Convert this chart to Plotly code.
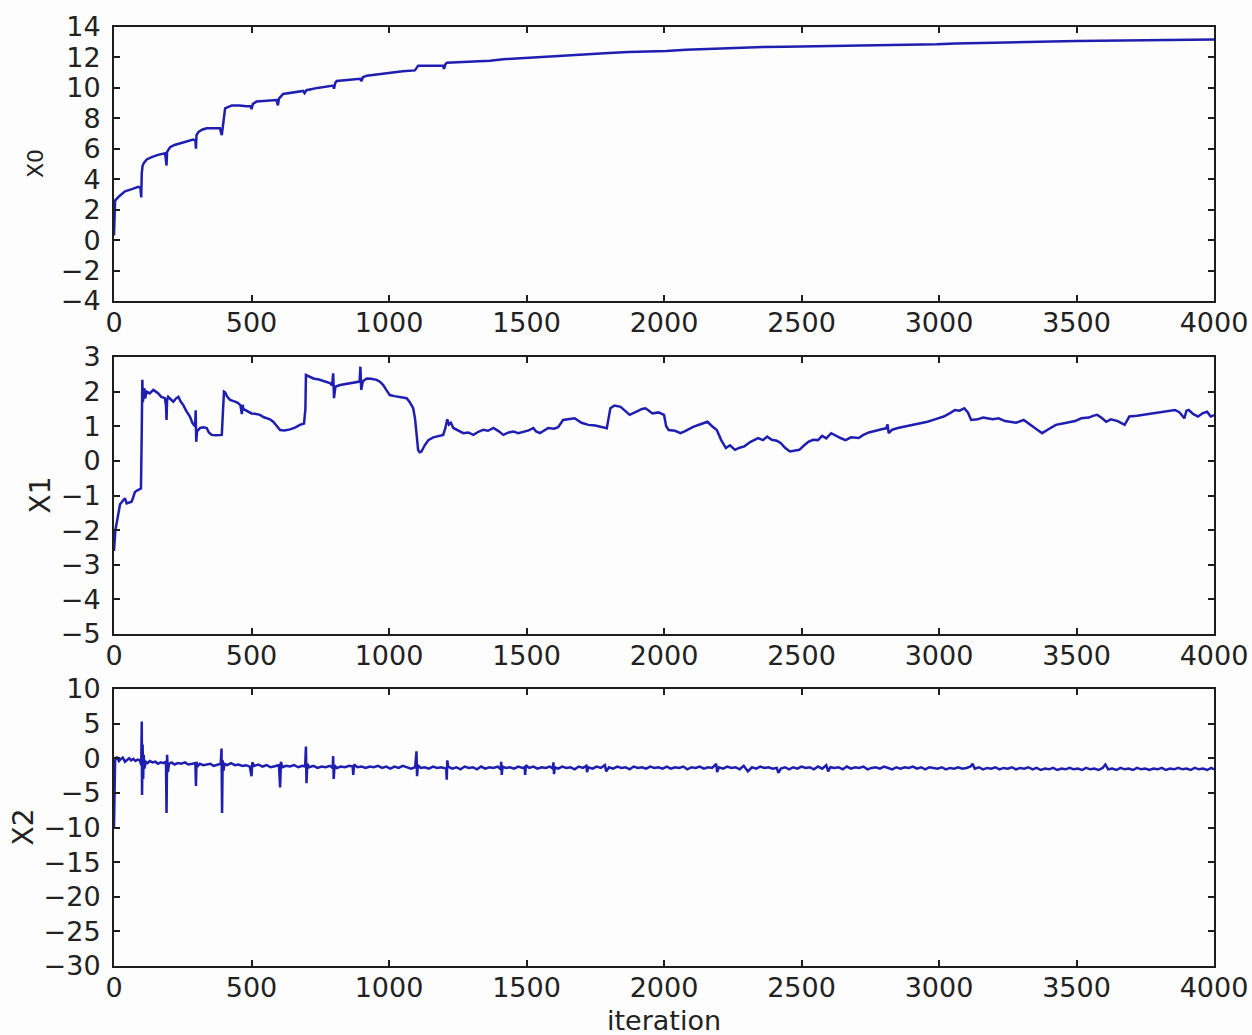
import plotly.graph_objects as go

# ---------------- data ----------------
x0_iter = [0, 2, 4, 20, 40, 65, 88, 96, 99, 101, 104, 110, 119, 137, 160, 186, 191, 193, 204, 220,
           240, 265, 288, 296, 298, 300, 307, 320, 337, 360, 385, 392, 396, 400, 404, 428, 455, 482,
           497, 500, 505, 518, 550, 591, 596, 600, 615, 650, 688, 693, 700, 740, 770, 797, 800, 805,
           810, 850, 895, 900, 905, 919, 960, 1003, 1050, 1094, 1100, 1106, 1150, 1197, 1200, 1205,
           1210, 1280, 1367, 1416, 1476, 1525, 1600, 1670, 1742, 1800, 1870, 1940, 2008, 2080, 2150,
           2208, 2280, 2360, 2442, 2520, 2600, 2680, 2742, 2820, 2900, 2992, 3060, 3158, 3240, 3320,
           3408, 3500, 3580, 3660, 3742, 3820, 3900, 3983, 4000]
x0_vals = [0.3, 1.8, 2.6, 2.9, 3.2, 3.35, 3.5, 3.45, 2.8, 4.4, 4.9, 5.1, 5.3, 5.45, 5.6, 5.7, 4.9, 5.8,
           6.1, 6.25, 6.35, 6.5, 6.6, 6.55, 6.0, 6.9, 7.1, 7.25, 7.35, 7.35, 7.35, 6.9, 7.6, 8.3, 8.65,
           8.85, 8.85, 8.8, 8.8, 8.6, 8.95, 9.1, 9.15, 9.2, 8.85, 9.3, 9.6, 9.7, 9.8, 9.65, 9.85, 10.0,
           10.1, 10.15, 9.95, 10.35, 10.45, 10.5, 10.6, 10.45, 10.7, 10.8, 10.9, 11.0, 11.1, 11.15,
           11.3, 11.45, 11.45, 11.45, 11.25, 11.55, 11.65, 11.7, 11.78, 11.88, 11.95, 12.02, 12.08,
           12.15, 12.25, 12.3, 12.35, 12.38, 12.42, 12.5, 12.55, 12.6, 12.62, 12.68, 12.7, 12.72,
           12.74, 12.75, 12.75, 12.78, 12.82, 12.86, 12.92, 12.97, 13.0, 13.02, 13.05, 13.08, 13.1,
           13.13, 13.15, 13.16, 13.18, 13.2, 13.18]

x1_iter = [0, 3, 5, 12, 22, 32, 40, 46, 55, 64, 70, 76, 85, 92, 98, 101, 103, 105, 107, 110, 113, 119,
           130, 143, 152, 161, 172, 185, 189, 191, 193, 197, 206, 216, 225, 234, 242, 252, 262, 270,
           276, 285, 295, 297, 299, 302, 313, 325, 337, 345, 355, 370, 385, 392, 396, 400, 404, 412,
           422, 432, 440, 450, 460, 465, 468, 470, 480, 490, 500, 512, 531, 545, 555, 567, 579, 592,
           604, 620, 640, 658, 676, 691, 696, 698, 710, 725, 745, 760, 773, 785, 793, 797, 800, 805,
           822, 845, 870, 885, 893, 896, 899, 905, 919, 935, 955, 968, 979, 990, 1003, 1020, 1040,
           1064, 1075, 1088, 1095, 1100, 1106, 1112, 1118, 1130, 1143, 1161, 1180, 1197, 1205, 1212,
           1218, 1225, 1234, 1250, 1270, 1288, 1307, 1325, 1343, 1360, 1380, 1398, 1416, 1435, 1452,
           1470, 1488, 1508, 1525, 1535, 1549, 1565, 1579, 1600, 1615, 1633, 1655, 1675, 1700, 1725,
           1750, 1770, 1792, 1800, 1805, 1820, 1842, 1858, 1875, 1900, 1920, 1933, 1945, 1958, 1980,
           2000, 2008, 2017, 2040, 2060, 2075, 2090, 2108, 2130, 2158, 2175, 2192, 2208, 2225, 2240,
           2258, 2275, 2292, 2315, 2342, 2360, 2375, 2392, 2410, 2425, 2440, 2458, 2475, 2492, 2510,
           2525, 2542, 2560, 2575, 2590, 2608, 2625, 2642, 2660, 2680, 2708, 2725, 2745, 2758, 2775,
           2795, 2808, 2813, 2817, 2830, 2850, 2875, 2900, 2930, 2958, 2985, 3017, 3040, 3058, 3075,
           3092, 3105, 3117, 3140, 3160, 3175, 3195, 3217, 3240, 3258, 3280, 3308, 3330, 3350, 3375,
           3395, 3425, 3450, 3475, 3495, 3517, 3545, 3560, 3575, 3590, 3608, 3625, 3650, 3675, 3685,
           3692, 3720, 3745, 3775, 3800, 3830, 3858, 3875, 3892, 3900, 3908, 3925, 3942, 3960, 3975,
           3988, 4000]
x1_vals = [-2.6, -2.3, -2.0, -1.7, -1.25, -1.15, -1.08, -1.23, -1.2, -1.18, -1.05, -0.9, -0.85, -0.82,
           -0.8, 0.9, 2.34, 1.7, 1.85, 2.1, 1.8, 2.0, 1.95, 2.05, 2.0, 1.95, 1.85, 1.81, 1.6, 1.18,
           1.75, 1.85, 1.78, 1.71, 1.8, 1.85, 1.72, 1.61, 1.45, 1.35, 1.28, 1.1, 0.99, 1.46, 0.55,
           0.85, 0.95, 0.97, 0.95, 0.82, 0.75, 0.74, 0.76, 0.75, 1.4, 2.0, 1.98, 1.85, 1.76, 1.74,
           1.71, 1.68, 1.6, 1.35, 1.62, 1.5, 1.45, 1.4, 1.37, 1.36, 1.33, 1.26, 1.23, 1.2, 1.13, 1.02,
           0.89, 0.88, 0.91, 0.96, 1.04, 1.08, 1.5, 2.48, 2.44, 2.38, 2.35, 2.32, 2.29, 2.25, 2.18,
           2.53, 1.81, 2.14, 2.19, 2.22, 2.24, 2.26, 2.29, 2.72, 2.05, 2.3, 2.38, 2.37, 2.34, 2.28,
           2.19, 2.05, 1.9, 1.87, 1.85, 1.81, 1.7, 1.52, 1.2, 0.7, 0.31, 0.25, 0.27, 0.45, 0.6, 0.68,
           0.72, 0.75, 0.95, 1.2, 1.05, 1.1, 0.95, 0.88, 0.8, 0.82, 0.75, 0.84, 0.9, 0.87, 0.95, 0.86,
           0.75, 0.82, 0.85, 0.8, 0.83, 0.88, 0.95, 0.85, 0.8, 0.88, 0.95, 0.93, 0.97, 1.18, 1.2,
           1.23, 1.1, 1.04, 1.02, 0.98, 0.94, 1.3, 1.52, 1.6, 1.56, 1.45, 1.33, 1.42, 1.5, 1.52, 1.45,
           1.37, 1.4, 1.33, 1.0, 0.89, 0.87, 0.8, 0.85, 0.92, 0.99, 1.05, 1.13, 1.0, 0.89, 0.6, 0.37,
           0.45, 0.32, 0.38, 0.42, 0.55, 0.66, 0.6, 0.7, 0.61, 0.58, 0.51, 0.38, 0.27, 0.3, 0.32, 0.45,
           0.55, 0.61, 0.6, 0.72, 0.65, 0.8, 0.72, 0.66, 0.6, 0.68, 0.66, 0.75, 0.82, 0.85, 0.88, 0.92,
           0.94, 1.05, 0.8, 0.9, 0.95, 0.99, 1.02, 1.08, 1.13, 1.2, 1.28, 1.38, 1.47, 1.45, 1.52, 1.4,
           1.18, 1.2, 1.25, 1.23, 1.2, 1.23, 1.15, 1.13, 1.1, 1.18, 1.05, 0.95, 0.8, 0.9, 1.04, 1.08,
           1.13, 1.15, 1.23, 1.25, 1.3, 1.33, 1.25, 1.13, 1.2, 1.15, 1.04, 1.2, 1.28, 1.3, 1.33, 1.37,
           1.4, 1.43, 1.47, 1.4, 1.23, 1.45, 1.47, 1.35, 1.28, 1.38, 1.42, 1.28, 1.32]

x2_iter = [0, 2, 4, 10, 18, 25, 32, 40, 48, 55, 62, 70, 78, 86, 94, 99, 101, 102, 104, 106, 108, 111,
           115, 122, 130, 140, 150, 160, 170, 180, 189, 191, 193, 196, 200, 210, 220, 232, 245, 258,
           270, 285, 296, 298, 300, 303, 312, 325, 338, 350, 362, 375, 388, 391, 393, 395, 398, 402,
           412, 425, 440, 452, 468, 480, 494, 500, 503, 510, 525, 540, 555, 570, 585, 600, 604, 607,
           612, 625, 640, 655, 670, 685, 695, 698, 700, 703, 710, 725, 740, 755, 770, 785, 795, 797,
           799, 802, 810, 825, 840, 855, 868, 870, 873, 885, 900, 915, 930, 945, 960, 975, 990, 1005,
           1020, 1035, 1050, 1065, 1080, 1095, 1100, 1102, 1105, 1115, 1130, 1145, 1160, 1175, 1190,
           1208, 1210, 1212, 1215, 1230, 1245, 1260, 1275, 1290, 1305, 1320, 1335, 1350, 1365, 1380,
           1395, 1406, 1408, 1410, 1413, 1425, 1440, 1455, 1470, 1485, 1493, 1495, 1498, 1510, 1525,
           1540, 1555, 1570, 1585, 1596, 1598, 1600, 1603, 1615, 1630, 1645, 1660, 1675, 1690, 1705,
           1718, 1720, 1725, 1740, 1755, 1770, 1785, 1790, 1800, 1815, 1830, 1845, 1860, 1875, 1890,
           1905, 1920, 1935, 1950, 1965, 1980, 1995, 2010, 2025, 2040, 2055, 2070, 2085, 2100, 2115,
           2130, 2145, 2160, 2175, 2190, 2193, 2200, 2215, 2230, 2245, 2260, 2275, 2290, 2305, 2320,
           2335, 2350, 2365, 2380, 2395, 2410, 2416, 2425, 2440, 2455, 2470, 2485, 2500, 2515, 2530,
           2545, 2560, 2575, 2590, 2597, 2605, 2620, 2635, 2650, 2665, 2680, 2695, 2710, 2725, 2740,
           2755, 2770, 2785, 2800, 2815, 2830, 2845, 2860, 2875, 2890, 2905, 2920, 2935, 2950, 2965,
           2980, 2995, 3010, 3025, 3040, 3055, 3070, 3085, 3100, 3115, 3122, 3130, 3145, 3160, 3175,
           3190, 3205, 3220, 3235, 3250, 3265, 3280, 3295, 3310, 3325, 3340, 3355, 3370, 3385, 3400,
           3415, 3430, 3445, 3460, 3475, 3490, 3505, 3520, 3535, 3550, 3565, 3580, 3595, 3605, 3615,
           3630, 3645, 3660, 3675, 3690, 3705, 3720, 3735, 3750, 3765, 3780, 3795, 3810, 3825, 3840,
           3855, 3870, 3885, 3900, 3915, 3930, 3945, 3960, 3975, 3990, 4000]
x2_vals = [-10.0, -5.0, -0.3, 0.2, -0.4, -0.1, 0.1, -0.5, -0.2, 0.0, -0.3, -0.1, -0.4, -0.2, -0.3,
           -1.0, 5.3, -5.3, 2.0, -3.0, 0.5, -1.5, -0.5, -0.7, -0.4, -0.6, -0.5, -0.8, -0.6, -0.7,
           -0.5, -7.9, 0.5, -2.0, -0.8, -0.6, -0.9, -0.7, -0.8, -0.6, -0.9, -0.8, -0.7, -4.0, -0.5,
           -1.2, -0.8, -1.0, -0.9, -0.8, -1.1, -0.9, -0.8, 1.4, -7.9, -0.3, -1.8, -0.8, -1.0, -0.7,
           -1.0, -0.9, -1.1, -1.0, -1.2, -2.6, -0.6, -1.1, -0.9, -1.2, -1.0, -1.3, -1.1, -1.0, -4.2,
           -0.5, -1.3, -1.1, -1.2, -1.0, -1.3, -1.1, -1.2, 1.7, -3.6, -0.8, -1.3, -1.1, -1.4, -1.2,
           -1.3, -1.1, -1.4, 0.3, -3.0, -1.0, -1.4, -1.2, -1.3, -1.1, -1.2, -2.4, -0.9, -1.3, -1.2,
           -1.4, -1.2, -1.3, -1.1, -1.4, -1.2, -1.5, -1.2, -1.4, -1.1, -1.3, -1.5, -1.3, 1.0, -2.6,
           -1.0, -1.4, -1.3, -1.5, -1.2, -1.4, -1.3, -1.5, -3.1, -0.3, -1.2, -1.5, -1.3, -1.6, -1.2,
           -1.4, -1.3, -1.6, -1.2, -1.5, -1.3, -1.4, -1.2, -1.6, -0.5, -2.4, -1.2, -1.4, -1.3, -1.5,
           -1.2, -1.4, -1.3, -2.4, -1.0, -1.4, -1.2, -1.5, -1.3, -1.4, -1.2, -1.5, -0.6, -2.3, -1.3,
           -1.5, -1.2, -1.4, -1.3, -1.6, -1.2, -1.4, -1.1, -2.0, -1.3, -1.5, -1.2, -1.4, -1.0, -1.9,
           -1.3, -1.5, -1.2, -1.4, -1.3, -1.6, -1.2, -1.4, -1.3, -1.5, -1.2, -1.4, -1.3, -1.5, -1.2,
           -1.5, -1.3, -1.4, -1.2, -1.6, -1.3, -1.4, -1.2, -1.5, -1.3, -1.4, -0.8, -2.0, -1.3, -1.5,
           -1.2, -1.4, -1.3, -1.6, -1.1, -1.9, -1.3, -1.5, -1.2, -1.4, -1.3, -1.5, -1.4, -2.1, -1.5,
           -1.3, -1.6, -1.3, -1.5, -1.2, -1.4, -1.3, -1.6, -1.2, -1.5, -1.0, -1.9, -1.3, -1.4, -1.3,
           -1.6, -1.2, -1.5, -1.3, -1.4, -1.2, -1.6, -1.4, -1.3, -1.5, -1.2, -1.4, -1.6, -1.3, -1.5,
           -1.3, -1.4, -1.2, -1.5, -1.3, -1.6, -1.3, -1.4, -1.5, -1.3, -1.6, -1.4, -1.5, -1.3, -1.5,
           -1.4, -1.2, -0.8, -1.5, -1.3, -1.6, -1.4, -1.5, -1.3, -1.6, -1.4, -1.5, -1.3, -1.6, -1.4,
           -1.5, -1.3, -1.6, -1.4, -1.7, -1.5, -1.6, -1.4, -1.7, -1.5, -1.6, -1.4, -1.6, -1.5, -1.7,
           -1.4, -1.6, -1.5, -1.7, -1.4, -0.9, -1.6, -1.5, -1.7, -1.4, -1.6, -1.5, -1.7, -1.4, -1.6,
           -1.5, -1.7, -1.5, -1.6, -1.4, -1.7, -1.5, -1.6, -1.4, -1.6, -1.5, -1.7, -1.4, -1.6, -1.5,
           -1.7, -1.4, -1.6]

x_ticks = [0, 500, 1000, 1500, 2000, 2500, 3000, 3500, 4000]
y0_ticks = [-4, -2, 0, 2, 4, 6, 8, 10, 12, 14]
y1_ticks = [-5, -4, -3, -2, -1, 0, 1, 2, 3]
y2_ticks = [-30, -25, -20, -15, -10, -5, 0, 5, 10]
panel_labels = ["X0", "X1", "X2"]
x_label = "iteration"

# ---------------- styling ----------------
W, H = 1252, 1035
ML, MR, MT, MB = 114, 38, 27, 69
FONT = "DejaVu Sans, Liberation Sans, Arial, sans-serif"
LINE_COLOR = "#1e1eb0"
AX_COLOR = "#1e1e1e"
TXT = "#222222"

plot_h = H - MT - MB
def dom(top_px, bot_px):
    return [1 - (bot_px - MT) / plot_h, 1 - (top_px - MT) / plot_h]

domains = [dom(27, 301), dom(357, 634), dom(689, 966)]

fig = go.Figure()
series = [(x0_iter, x0_vals), (x1_iter, x1_vals), (x2_iter, x2_vals)]
for i, (xs, ys) in enumerate(series):
    sfx = "" if i == 0 else str(i + 1)
    fig.add_trace(go.Scatter(x=xs, y=ys, mode="lines",
                             line=dict(color=LINE_COLOR, width=2.5),
                             xaxis="x" + sfx, yaxis="y" + sfx, showlegend=False,
                             hoverinfo="skip"))

common_axis = dict(showline=True, linewidth=2, linecolor=AX_COLOR, mirror="ticks",
                   ticks="inside", ticklen=6, tickwidth=1.5, tickcolor=AX_COLOR,
                   showgrid=False, zeroline=False, automargin=False,
                   ticklabeloverflow="allow",
                   tickfont=dict(family=FONT, size=27, color=TXT))

yranges = [[-4, 14], [-5, 3], [-30, 10]]
yticks = [y0_ticks, y1_ticks, y2_ticks]
layout = dict(width=W, height=H, margin=dict(l=ML, r=MR, t=MT, b=MB, autoexpand=False),
              paper_bgcolor="#fdfdfd", plot_bgcolor="#fdfdfd", showlegend=False)
for i in range(3):
    sfx = "" if i == 0 else str(i + 1)
    layout["xaxis" + sfx] = dict(common_axis, range=[0, 4000], tickvals=x_ticks,
                                 ticktext=[str(v) for v in x_ticks],
                                 anchor="y" + sfx, domain=[0, 1], ticklabelstandoff=-3)
    layout["yaxis" + sfx] = dict(common_axis, range=yranges[i], tickvals=yticks[i],
                                 anchor="x" + sfx, domain=domains[i], ticklabelstandoff=6)
fig.update_layout(**layout)

label_px = [(36, 22), (40, 28), (23, 28)]
anns = []
for i, lab in enumerate(panel_labels):
    px, fs = label_px[i]
    anns.append(dict(text=lab, xref="paper", yref="paper",
                     x=(px - ML) / (W - ML - MR), y=sum(domains[i]) / 2,
                     xanchor="center", yanchor="middle", textangle=-90, showarrow=False,
                     font=dict(family=FONT, size=fs, color=TXT)))
anns.append(dict(text=x_label, xref="paper", yref="paper", x=0.5,
                 y=(966 - 1021) / plot_h, xanchor="center", yanchor="middle",
                 showarrow=False, font=dict(family=FONT, size=27, color=TXT)))
fig.update_layout(annotations=anns)

fig.write_html("out.html", config={"displayModeBar": False},
               post_script="document.body.style.margin='0';document.body.style.padding='0';"
                           "document.body.style.overflow='hidden';")
